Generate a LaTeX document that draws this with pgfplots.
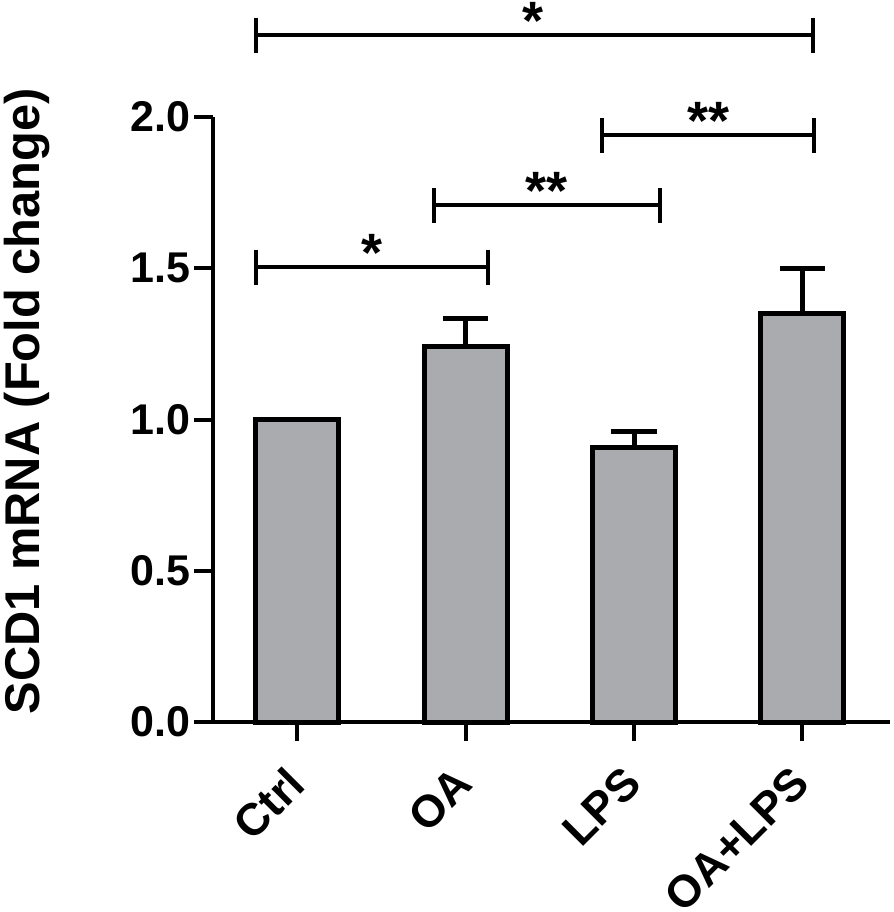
\documentclass[border=0pt]{standalone}
\usepackage{pgfplots}
\pgfplotsset{compat=1.18}
\usepackage{fontspec}
\setmainfont{Liberation Sans}
\definecolor{barfill}{RGB}{170,171,175}
\begin{document}
\begin{tikzpicture}
\begin{axis}[
  at={(0,0)}, anchor=south west,
  width=338.5pt, height=302.5pt, scale only axis,
  xmin=-0.5, xmax=3.52, ymin=0, ymax=2,
  axis x line=bottom, axis y line=left,
  axis line style={-, line width=2pt, black},
  xtick={0,1,2,3}, xticklabels={Ctrl,OA,LPS,OA+LPS},
  ytick={0,0.5,1,1.5,2},
  /pgf/number format/.cd, fixed, fixed zerofill, precision=1, assume math mode=true,
  /pgfplots/.cd,
  tick align=outside, major tick length=9.5pt,
  tick style={line width=2pt, black},
  yticklabel style={font=\fontsize{21.5}{21.5}\selectfont\bfseries, inner sep=1.5pt},
  xticklabel style={font=\fontsize{22.5}{22.5}\selectfont\bfseries, xshift=-6.5pt, yshift=-8.5pt, rotate=45, anchor=north east, inner sep=2pt},
  ylabel={SCD1 mRNA (Fold change)},
  ylabel style={font=\fontsize{24.4}{24.4}\selectfont\bfseries, at={(axis description cs:-0.275,0.53)}, anchor=center},
  clip=false,
]
\addplot[ybar, bar width=41.5pt, fill=barfill, draw=black, line width=2.5pt,
  error bars/.cd, y dir=plus, y explicit,
  error bar style={line width=2.5pt, black},
  error mark options={rotate=90, mark size=11.3pt, line width=2.5pt, black}]
  table[x=x, y=y, y error=e] {
x y e
0 1.000 0.000
1 1.241 0.092
2 0.909 0.051
3 1.349 0.149
};
% significance brackets
\draw[line width=2pt] (axis cs:-0.243,2.271) -- (axis cs:3.065,2.271);
\draw[line width=2pt] ([yshift=-8.75pt]axis cs:-0.243,2.271) -- ([yshift=8.75pt]axis cs:-0.243,2.271);
\draw[line width=2pt] ([yshift=-8.75pt]axis cs:3.065,2.271) -- ([yshift=8.75pt]axis cs:3.065,2.271);
\node[anchor=north, inner sep=0pt, font=\fontsize{27}{27}\selectfont\bfseries] at ([yshift=16.5pt]axis cs:1.40,2.271) {*};

\draw[line width=2pt] (axis cs:1.808,1.940) -- (axis cs:3.071,1.940);
\draw[line width=2pt] ([yshift=-8.75pt]axis cs:1.808,1.940) -- ([yshift=8.75pt]axis cs:1.808,1.940);
\draw[line width=2pt] ([yshift=-8.75pt]axis cs:3.071,1.940) -- ([yshift=8.75pt]axis cs:3.071,1.940);
\node[anchor=north, inner sep=0pt, font=\fontsize{27}{27}\selectfont\bfseries] at ([yshift=16.5pt]axis cs:2.44,1.940) {**};

\draw[line width=2pt] (axis cs:0.812,1.709) -- (axis cs:2.152,1.709);
\draw[line width=2pt] ([yshift=-8.75pt]axis cs:0.812,1.709) -- ([yshift=8.75pt]axis cs:0.812,1.709);
\draw[line width=2pt] ([yshift=-8.75pt]axis cs:2.152,1.709) -- ([yshift=8.75pt]axis cs:2.152,1.709);
\node[anchor=north, inner sep=0pt, font=\fontsize{27}{27}\selectfont\bfseries] at ([yshift=16.5pt]axis cs:1.482,1.709) {**};

\draw[line width=2pt] (axis cs:-0.243,1.504) -- (axis cs:1.132,1.504);
\draw[line width=2pt] ([yshift=-8.75pt]axis cs:-0.243,1.504) -- ([yshift=8.75pt]axis cs:-0.243,1.504);
\draw[line width=2pt] ([yshift=-8.75pt]axis cs:1.132,1.504) -- ([yshift=8.75pt]axis cs:1.132,1.504);
\node[anchor=north, inner sep=0pt, font=\fontsize{27}{27}\selectfont\bfseries] at ([yshift=16.5pt]axis cs:0.445,1.504) {*};
\end{axis}
\pgfresetboundingbox
\useasboundingbox (-106.5pt,-95pt) rectangle (340.5pt,361pt);
\end{tikzpicture}
\end{document}
